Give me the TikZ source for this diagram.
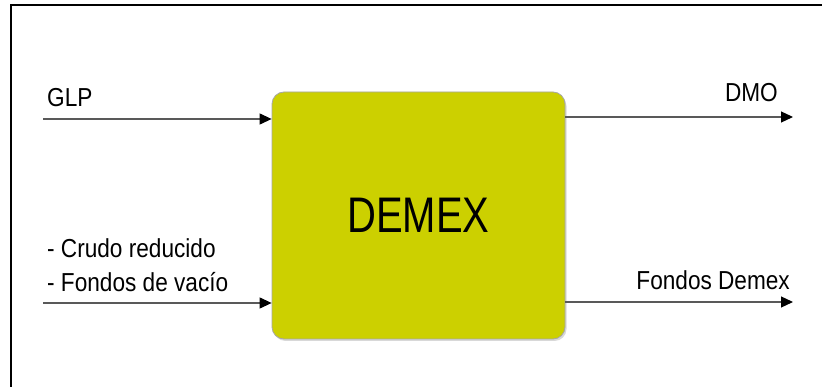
\documentclass[tikz,border=0pt]{standalone}
\usepackage{fontspec}
\setmainfont{Liberation Sans}
\usetikzlibrary{arrows.meta,shadows}
\definecolor{demex}{RGB}{204,208,0}
\begin{document}
\begin{tikzpicture}[x=1pt,y=-1pt,
 lbl/.style={font=\fontsize{26}{30}\selectfont, inner sep=0pt, xscale=0.87, transform shape},
 flow/.style={draw=black!65, line width=1.2pt, -{Triangle[length=12pt,width=11pt,color=black]}},
 proc/.style={draw=black!35, fill=demex, rounded corners=12pt, line width=0.8pt,
   drop shadow={shadow xshift=1.5pt, shadow yshift=-2pt, opacity=0.3}}]
\useasboundingbox (0,0) rectangle (822,387);
\fill[white] (0,0) rectangle (822,387);
\draw[line width=2pt] (11,387) -- (11,5) -- (822,5);
\node[proc, minimum width=293pt, minimum height=247pt] (box) at (418.5,215.5) {};
\node[font=\fontsize{50}{60}\selectfont, xscale=0.8, transform shape] (title) at (box.center) {DEMEX};
\coordinate (glpS) at (43,119);
\draw[flow] (glpS) -- (glpS -| box.west);
\node[lbl, anchor=base west] (glp) at (47,107) {GLP};
\coordinate (feedS) at (43,303);
\draw[flow] (feedS) -- (feedS -| box.west);
\node[lbl, anchor=base west] (crudo) at (47,258) {- Crudo reducido};
\node[lbl, anchor=base west] (fondos) at (47,292) {- Fondos de vacío};
\coordinate (dmoE) at (793,117);
\draw[flow] (dmoE -| box.east) -- (dmoE);
\node[lbl, anchor=base east] (dmo) at (778,102) {DMO};
\coordinate (fdE) at (793,302);
\draw[flow] (fdE -| box.east) -- (fdE);
\node[lbl, anchor=base east] (fdemex) at (790,290) {Fondos Demex};
\end{tikzpicture}
\end{document}
